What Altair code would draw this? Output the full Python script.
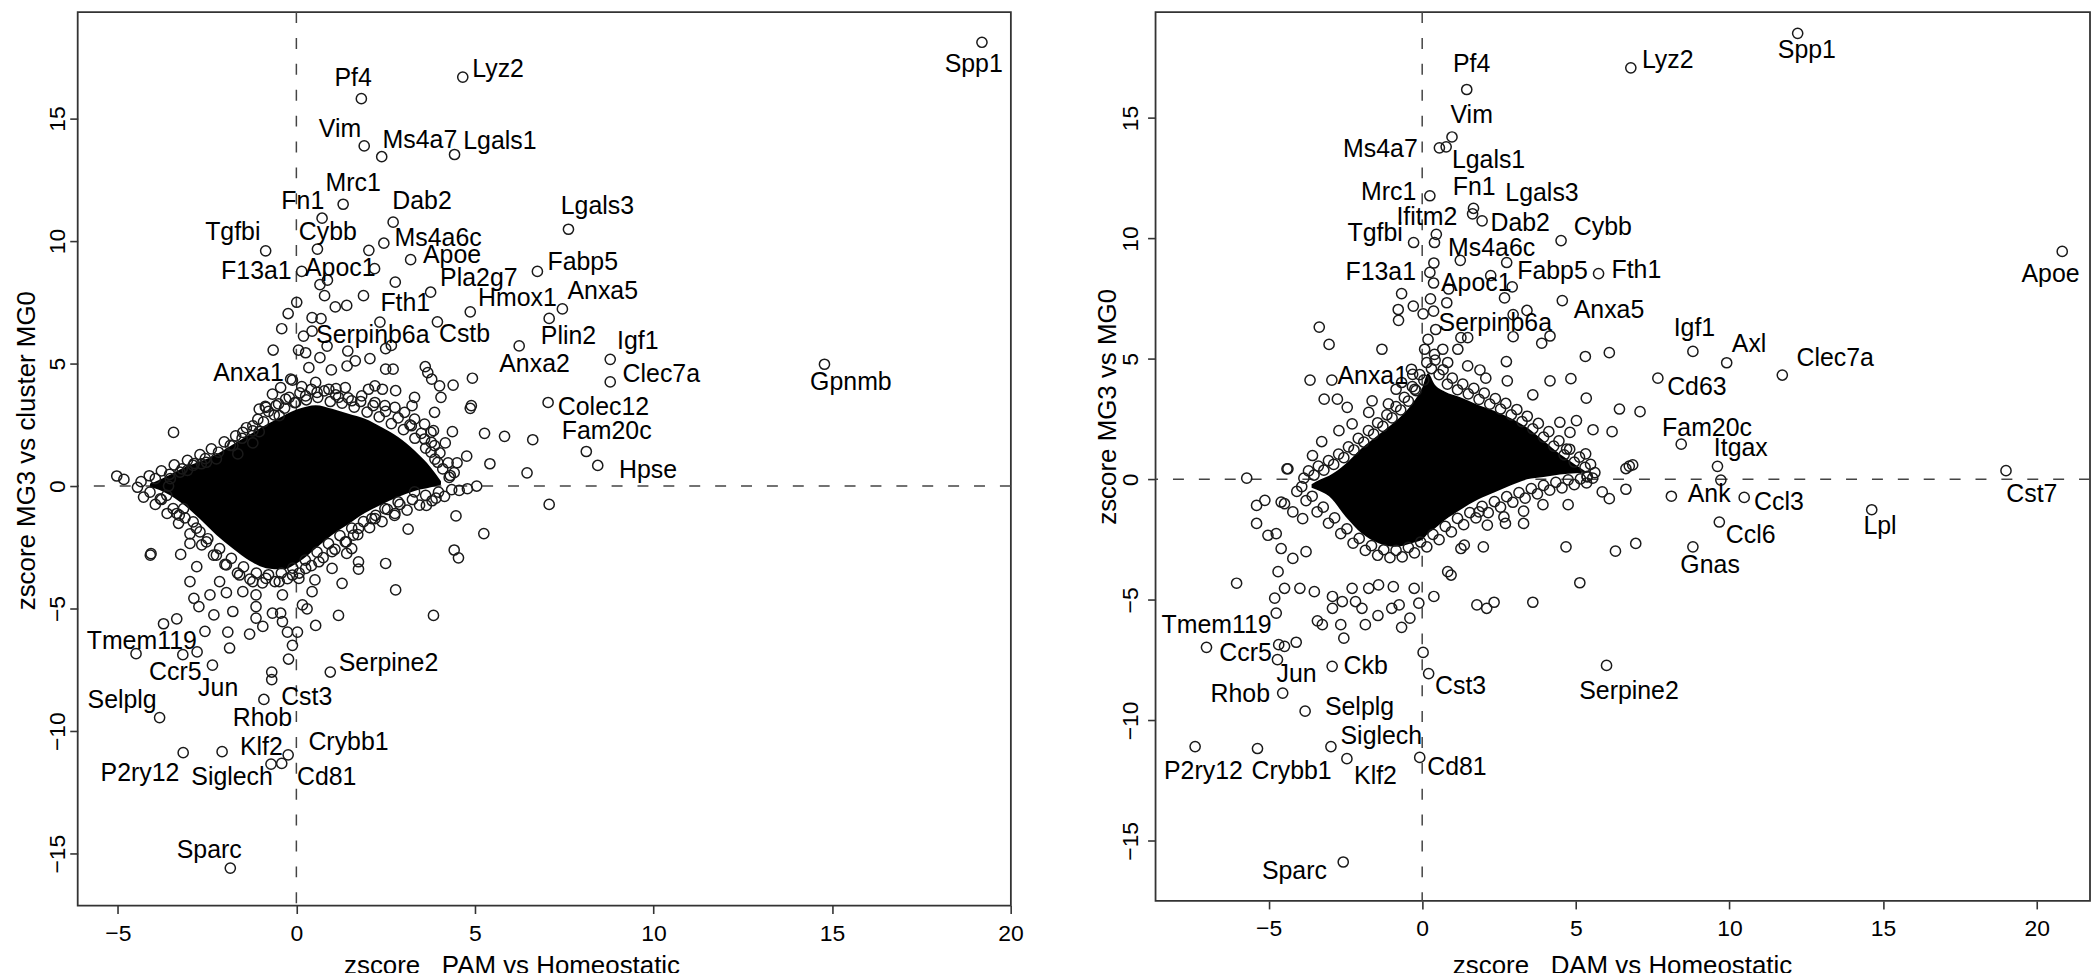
import altair as alt
import pandas as pd

FONT = "Liberation Sans"

# ======================= LEFT PANEL (PAM vs Homeostatic) =======================
L_genes = ["Pf4", "Lyz2", "Vim", "Ms4a7", "Lgals1", "Mrc1", "Fn1", "Dab2", "Lgals3", "Tgfbi",
           "Cybb", "Ms4a6c", "Apoe", "F13a1", "Apoc1", "Pla2g7", "Fabp5", "Fth1", "Hmox1", "Anxa5",
           "Cstb", "Serpinb6a", "Plin2", "Anxa2", "Igf1", "Clec7a", "Anxa1", "Colec12", "Fam20c", "Hpse",
           "Spp1", "Gpnmb", "Tmem119", "Ccr5", "Jun", "Selplg", "Rhob", "Cst3", "Serpine2", "Klf2",
           "Crybb1", "P2ry12", "Siglech", "Cd81", "Sparc"]
L_gx = [1.82, 4.66, 1.90, 2.39, 4.43, 1.31, 0.72, 2.71, 7.62, -0.86,
        0.59, 2.45, 3.20, 0.15, 2.19, 3.76, 6.75, 2.34, 4.87, 7.45,
        3.95, 0.20, 7.08, 6.24, 8.79, 8.79, -0.11, 7.05, 8.12, 8.44,
        19.20, 14.79, -4.49, -3.18, -2.35, -3.83, -0.91, -0.69, 0.95, -2.08,
        -0.23, -3.17, -0.71, -0.41, -1.85]
L_gy = [15.81, 16.69, 13.88, 13.44, 13.53, 11.50, 10.93, 10.77, 10.48, 9.60,
        9.67, 9.91, 9.24, 8.76, 8.87, 7.91, 8.76, 6.69, 7.11, 7.23,
        6.70, 6.12, 6.84, 5.72, 5.17, 4.25, 4.32, 3.41, 1.41, 0.84,
        18.11, 4.97, -6.84, -6.88, -7.31, -9.45, -8.71, -7.90, -7.59, -10.84,
        -10.97, -10.88, -11.35, -11.32, -15.59]
L_lx = [1.59, 5.65, 1.22, 3.46, 5.70, 1.59, 0.18, 3.52, 8.43, -1.78,
        0.88, 3.97, 4.36, -1.12, 1.23, 5.11, 8.02, 3.05, 6.19, 8.58,
        4.71, 2.14, 7.62, 6.67, 9.56, 10.22, -1.34, 8.60, 8.69, 9.85,
        18.97, 15.53, -4.33, -3.39, -2.19, -4.88, -0.95, 0.29, 2.58, -0.98,
        1.46, -4.38, -1.80, 0.85, -2.44]
L_ly = [16.66, 17.03, 14.55, 14.11, 14.06, 12.38, 11.65, 11.65, 11.41, 10.35,
        10.35, 10.12, 9.41, 8.76, 8.90, 8.49, 9.13, 7.48, 7.68, 7.95,
        6.22, 6.16, 6.12, 4.97, 5.92, 4.56, 4.63, 3.21, 2.26, 0.64,
        17.23, 4.23, -6.34, -7.59, -8.24, -8.74, -9.45, -8.61, -7.22, -10.65,
        -10.43, -11.72, -11.87, -11.89, -14.87]

# unlabeled genes visible outside the saturated core
L_other = [(2.03, 9.62), (0.66, 8.22), (0.87, 8.40), (2.77, 8.32), (0.79, 7.77), (1.88, 7.77),
           (1.09, 7.31), (1.41, 7.37), (0.01, 7.50), (-0.23, 7.04), (0.44, 6.87), (0.69, 6.83),
           (-0.41, 6.42), (0.44, 6.32), (0.86, 5.71), (-0.65, 5.55), (0.06, 5.55), (0.26, 5.44),
           (1.44, 5.51), (2.50, 5.61), (2.66, 5.74), (2.06, 5.20), (1.65, 5.11), (0.66, 5.24),
           (0.35, 4.83), (1.42, 4.90), (0.98, 4.74), (2.50, 4.77), (2.71, 4.77), (3.61, 4.87),
           (3.68, 4.63), (3.79, 4.36), (4.01, 4.09), (4.39, 4.12), (4.93, 4.40), (6.46, 0.54),
           (6.62, 1.89), (5.83, 2.03), (5.27, 2.15), (4.37, 2.22), (4.17, 1.76), (4.77, 1.22),
           (4.50, 0.95), (5.42, 0.91), (4.31, 0.43), (5.05, 0.00), (4.79, -0.11), (4.56, -0.18),
           (4.87, 3.17), (4.90, 3.28), (4.05, 3.62), (3.87, 3.01), (3.84, 2.26), (3.31, 3.62),
           (3.24, 3.28), (2.78, 3.89), (2.41, 3.95), (2.20, 4.09), (2.02, 3.95), (1.37, 4.02),
           (1.11, 3.98), (0.54, 4.23), (0.15, 4.06), (-0.16, 4.36), (-0.44, 4.02), (-0.67, 3.75),
           (-0.87, 3.25), (-1.04, 3.14), (-0.48, 2.87), (-1.04, 2.22), (-3.44, 2.19), (-1.22, 1.76),
           (-1.64, 1.31), (-2.66, 0.91), (-3.05, 0.64), (-5.03, 0.41), (-4.83, 0.27), (-3.58, 0.00),
           (3.22, 2.46), (3.59, 1.92), (3.77, 1.38), (3.96, 0.97),
           (-3.81, -0.52), (-3.35, -1.12), (-3.28, -1.19), (-2.98, -2.34), (-4.09, -2.82), (-4.07, -2.76),
           (-3.24, -2.79), (-2.79, -3.29), (-2.98, -3.90), (-2.87, -4.58), (-2.73, -4.92), (-3.72, -5.62),
           (-3.35, -5.42), (-2.56, -5.93), (-2.78, -6.77), (-1.92, -5.96), (-1.87, -6.61), (-1.31, -6.04),
           (-2.31, -5.26), (-2.42, -4.44), (-1.96, -4.35), (-1.78, -5.12), (-1.13, -5.39), (-0.94, -5.73),
           (-1.13, -4.92), (-0.67, -5.19), (-0.44, -5.19), (-0.39, -5.53), (-0.25, -5.96), (0.03, -5.96),
           (-0.11, -6.50), (-0.22, -7.06), (-0.69, -7.59), (0.54, -5.69), (1.18, -5.28), (0.17, -4.85),
           (0.30, -5.01), (0.07, -3.77), (0.52, -3.83), (1.28, -3.97), (1.74, -3.09), (1.74, -3.39),
           (2.50, -3.16), (2.78, -4.24), (3.84, -5.28), (4.42, -2.61), (4.54, -2.93), (5.25, -1.94),
           (4.47, -1.22), (7.08, -0.75), (3.13, -1.76), (2.76, -1.12), (3.64, -0.79), (3.91, -0.49),
           (1.60, -2.00), (1.41, -2.75), (2.20, -1.33),
           (-0.85, 3.21), (-0.57, 3.28), (-0.30, 3.55), (-0.02, 3.41), (0.26, 3.68), (0.58, 3.82),
           (0.91, 3.95), (1.18, 3.62), (1.55, 3.48), (1.83, 3.68), (2.20, 3.41), (2.48, 3.28),
           (2.76, 3.21), (3.03, 3.01), (3.31, 2.73), (3.59, 2.53), (3.77, 2.19), (3.87, 1.65),
           (-1.78, 1.65), (-1.50, 2.19), (-1.22, 2.46), (-2.24, 1.11), (-2.52, 0.97), (-2.89, 0.84),
           (-3.26, 0.57), (-3.53, 0.30),
           (-3.63, -0.38), (-3.16, -0.92), (-2.89, -1.46), (-2.70, -1.87), (-2.52, -2.28), (-2.24, -2.82),
           (-1.96, -3.22), (-1.59, -3.63), (-1.22, -3.90), (-0.85, -3.77), (-0.48, -3.90), (-0.11, -3.63),
           (0.26, -3.36), (0.63, -3.09), (1.00, -2.68), (1.37, -2.28), (1.74, -1.73), (2.11, -1.33),
           (2.48, -0.92), (2.85, -0.65), (3.31, -0.24), (-1.50, -4.31), (-2.15, -3.90), (-1.13, -4.44),
           (-0.39, -4.44), (0.44, -4.31), (1.00, -3.36), (1.55, -2.55)]

# genes crowding the ragged rim of the saturated core
L_edge = [(-4.35, 0.18), (-4.12, 0.42), (-3.95, 0.30), (-3.78, 0.62), (-3.55, 0.48), (-3.42, 0.86),
          (-3.20, 0.70), (-3.05, 1.05), (-2.86, 0.92), (-2.70, 1.28), (-2.55, 1.12), (-2.38, 1.52),
          (-2.18, 1.38), (-2.02, 1.80), (-1.85, 1.66), (-1.70, 2.05), (-1.52, 1.95), (-1.40, 2.38),
          (-1.22, 2.25), (-1.08, 2.72), (-0.92, 2.62), (-0.78, 3.05), (-0.62, 2.90), (-0.50, 3.35),
          (-0.33, 3.18), (-0.20, 3.62), (-0.05, 3.40), (0.10, 3.80), (0.28, 3.52), (0.42, 3.95),
          (0.60, 3.62), (0.78, 3.88), (0.95, 3.45), (1.10, 3.72), (1.28, 3.38), (1.45, 3.60),
          (1.62, 3.22), (1.80, 3.45), (1.98, 3.02), (2.15, 3.28), (2.32, 2.82), (2.50, 3.05),
          (2.66, 2.55), (2.85, 2.78), (3.00, 2.30), (3.18, 2.50), (3.32, 1.95), (3.50, 2.15),
          (3.62, 1.55), (3.78, 1.78), (3.88, 1.10), (4.02, 1.35), (4.10, 0.70), (4.25, 0.95),
          (4.28, 0.35), (4.42, 0.55),
          (4.35, -0.15), (4.15, -0.42), (3.98, -0.25), (3.80, -0.60), (3.62, -0.38), (3.45, -0.78),
          (3.25, -0.55), (3.10, -0.98), (2.90, -0.75), (2.75, -1.20), (2.55, -0.95), (2.40, -1.45),
          (2.22, -1.20), (2.05, -1.70), (1.88, -1.45), (1.72, -1.98), (1.55, -1.72), (1.40, -2.28),
          (1.22, -2.02), (1.08, -2.58), (0.90, -2.35), (0.75, -2.92), (0.58, -2.70), (0.42, -3.25),
          (0.25, -3.02), (0.08, -3.55), (-0.10, -3.35), (-0.25, -3.78), (-0.42, -3.55), (-0.60, -3.90),
          (-0.78, -3.62), (-0.95, -3.95), (-1.12, -3.55), (-1.30, -3.80), (-1.48, -3.30), (-1.65, -3.55),
          (-1.82, -2.95), (-2.00, -3.20), (-2.15, -2.55), (-2.32, -2.82), (-2.48, -2.15), (-2.65, -2.40),
          (-2.80, -1.72), (-2.98, -1.95), (-3.12, -1.30), (-3.30, -1.52), (-3.45, -0.92), (-3.62, -1.12),
          (-3.78, -0.55), (-3.95, -0.75), (-4.10, -0.25), (-4.28, -0.45), (-4.45, -0.05)]

# saturated (fully overplotted) core: upper and lower edge along x
L_core_x = [-4.10, -3.85, -3.63, -3.16, -2.70, -2.24, -1.78, -1.31, -0.85, -0.39,
            0.07, 0.54, 1.00, 1.46, 1.92, 2.39, 2.85, 3.31, 3.77, 4.05]
L_core_hi = [0.10, 0.25, 0.40, 0.75, 1.00, 1.30, 1.70, 2.10, 2.50, 2.85,
             3.15, 3.30, 3.15, 2.95, 2.75, 2.40, 2.00, 1.45, 0.75, 0.20]
L_core_lo = [-0.05, -0.15, -0.30, -0.75, -1.35, -2.00, -2.55, -3.05, -3.35, -3.40,
             -3.10, -2.55, -2.00, -1.55, -1.10, -0.75, -0.45, -0.20, -0.05, 0.05]

# ======================= RIGHT PANEL (DAM vs Homeostatic) =======================
R_genes = ["Pf4", "Lyz2", "Vim", "Ms4a7", "Lgals1", "Mrc1", "Fn1", "Lgals3", "Dab2", "Ifitm2",
           "Tgfbi", "Ms4a6c", "Cybb", "F13a1", "Apoc1", "Fabp5", "Fth1", "Anxa5", "Serpinb6a", "Anxa1",
           "Spp1", "Apoe", "Igf1", "Axl", "Clec7a", "Cd63", "Fam20c", "Itgax", "Ank", "Ccl3",
           "Ccl6", "Gnas", "Lpl", "Cst7", "Serpine2", "Tmem119", "Ccr5", "Jun", "Ckb", "Cst3",
           "Rhob", "Selplg", "Siglech", "Klf2", "Cd81", "P2ry12", "Crybb1", "Sparc"]
R_gx = [1.45, 6.79, 0.97, 0.56, 0.78, 0.25, 1.67, 1.64, 1.95, 0.46,
        -0.28, 0.40, 4.52, 0.25, 0.37, 2.75, 5.74, 4.56, 0.44, -0.31,
        12.22, 20.83, 8.81, 9.91, 11.72, 7.67, 8.43, 9.61, 9.72, 10.48,
        9.67, 8.81, 14.63, 19.00, 6.00, -7.02, -4.67, -4.71, -2.93, 0.21,
        -4.54, -3.81, -2.97, -2.45, -0.08, -7.39, -5.36, -2.57]
R_gy = [16.18, 17.08, 14.21, 13.76, 13.80, 11.77, 11.25, 11.02, 10.73, 10.17,
        9.83, 9.83, 9.91, 8.59, 8.15, 9.00, 8.54, 7.42, 6.22, 4.36,
        18.51, 9.46, 5.31, 4.84, 4.33, 4.20, 1.46, 0.54, -0.03, -0.75,
        -1.77, -2.80, -1.26, 0.36, -7.72, -6.97, -6.86, -7.48, -7.76, -8.06,
        -8.87, -9.62, -11.09, -11.59, -11.54, -11.09, -11.17, -15.88]
R_lx = [1.61, 7.99, 1.61, -1.36, 2.16, -1.09, 1.69, 3.90, 3.19, 0.15,
        -1.53, 2.26, 5.88, -1.35, 1.76, 4.24, 6.97, 6.08, 2.38, -1.61,
        12.52, 20.45, 8.86, 10.64, 13.44, 8.94, 9.27, 10.37, 9.34, 11.61,
        10.69, 9.37, 14.90, 19.84, 6.73, -6.69, -5.75, -4.09, -1.84, 1.25,
        -5.92, -2.04, -1.33, -1.52, 1.13, -7.12, -4.25, -4.16]
R_ly = [17.24, 17.41, 15.11, 13.73, 13.27, 11.94, 12.12, 11.87, 10.63, 10.90,
        10.24, 9.60, 10.46, 8.59, 8.15, 8.63, 8.70, 7.02, 6.50, 4.29,
        17.80, 8.51, 6.26, 5.61, 5.05, 3.82, 2.15, 1.31, -0.62, -0.95,
        -2.29, -3.54, -1.95, -0.59, -8.79, -6.06, -7.21, -8.07, -7.76, -8.58,
        -8.90, -9.44, -10.65, -12.33, -11.93, -12.12, -12.10, -16.26]

R_other = [(1.24, 9.09), (0.38, 8.98), (2.23, 8.46), (0.86, 7.90), (2.93, 7.99), (2.68, 7.53),
           (-0.67, 7.71), (0.27, 7.49), (0.80, 7.33), (-0.78, 7.05), (-0.29, 7.19), (0.03, 6.87),
           (0.37, 6.98), (-0.77, 6.60), (-3.35, 6.32), (-3.03, 5.60), (-1.31, 5.40), (2.96, 6.84),
           (3.41, 7.01), (2.96, 5.92), (3.89, 5.65), (4.16, 5.95), (1.26, 5.88), (1.48, 5.88),
           (5.31, 5.10), (6.09, 5.26), (2.74, 4.89), (1.88, 4.54), (2.07, 4.20), (2.77, 4.09),
           (4.16, 4.09), (4.84, 4.18), (3.60, 3.51), (5.34, 3.37), (6.42, 2.92), (7.09, 2.81),
           (-3.65, 4.12), (-2.94, 4.12), (-0.85, 3.74), (-3.19, 3.33), (-2.76, 3.33), (-2.44, 2.99),
           (-1.63, 3.26), (-1.10, 3.13), (-1.74, 2.78), (-2.28, 2.30), (-2.71, 2.02), (-3.27, 1.57),
           (-3.57, 0.99), (-4.37, 0.44), (-5.71, 0.05), (5.56, 2.06), (6.18, 1.98), (5.02, 2.44),
           (5.32, 1.06), (6.74, 0.55), (6.85, 0.60), (6.63, 0.45), (4.81, 1.95), (4.70, 1.26),
           (5.37, 0.13), (4.48, 2.37),
           (0.19, 5.81), (0.08, 5.40), (0.40, 5.19), (0.67, 5.40), (0.83, 4.85), (1.16, 5.40),
           (1.48, 4.71), (-0.35, 4.57), (-0.67, 4.02), (-0.24, 3.74),
           (-4.40, 0.44), (-5.39, -1.08), (-5.12, -0.87), (-4.59, -0.94), (-4.48, -1.01), (-5.39, -1.83),
           (-5.02, -2.32), (-4.75, -2.25), (-4.21, -1.35), (-3.89, -1.63), (-4.59, -2.87), (-4.21, -3.28),
           (-3.78, -3.00), (-4.69, -3.83), (-4.48, -4.52), (-4.80, -4.93), (-4.75, -5.55), (-6.04, -4.31),
           (-3.98, -4.52), (-3.51, -4.66), (-2.92, -4.86), (-2.60, -5.07), (-2.92, -5.35), (-3.41, -5.87),
           (-3.25, -6.03), (-2.65, -6.03), (-2.55, -6.59), (-1.85, -6.03), (-1.44, -5.65), (-2.17, -5.07),
           (-1.96, -5.35), (-2.28, -4.52), (-1.74, -4.52), (-1.42, -4.38), (-0.94, -4.45), (-0.99, -5.35),
           (-0.75, -5.21), (-0.40, -5.76), (-0.67, -6.14), (-0.26, -4.52), (-0.11, -5.14), (0.38, -4.86),
           (0.03, -7.18), (0.83, -3.83), (0.94, -3.97), (1.26, -2.87), (1.99, -2.80), (1.78, -5.21),
           (2.10, -5.35), (2.34, -5.10), (3.60, -5.10), (5.13, -4.29), (4.68, -2.80), (6.29, -2.98),
           (6.95, -2.66), (5.86, -0.52), (6.09, -0.80), (6.63, -0.41), (8.11, -0.70), (5.37, 0.10),
           (4.75, -1.05), (3.93, -1.05), (3.30, -1.32), (3.30, -1.83), (2.71, -1.83), (2.66, -1.56),
           (2.12, -1.90), (1.85, -1.35), (1.37, -2.73), (-4.48, -6.93), (-4.10, -6.76)]

R_edge = [(-3.85, 0.05), (-3.70, 0.35), (-3.52, 0.18), (-3.38, 0.55), (-3.20, 0.38), (-3.05, 0.78),
          (-2.88, 0.62), (-2.72, 1.05), (-2.55, 0.90), (-2.40, 1.35), (-2.22, 1.22), (-2.08, 1.70),
          (-1.90, 1.55), (-1.75, 2.02), (-1.58, 1.88), (-1.45, 2.35), (-1.28, 2.20), (-1.15, 2.68),
          (-0.98, 2.55), (-0.85, 3.02), (-0.70, 2.88), (-0.58, 3.40), (-0.45, 3.25), (-0.32, 3.85),
          (-0.20, 3.68), (-0.08, 4.35), (0.05, 4.12), (0.15, 4.85), (0.30, 4.60), (0.42, 4.95),
          (0.55, 4.35), (0.68, 4.55), (0.82, 3.95), (0.98, 4.20), (1.15, 3.72), (1.32, 3.95),
          (1.50, 3.55), (1.68, 3.78), (1.85, 3.32), (2.02, 3.58), (2.20, 3.12), (2.38, 3.35),
          (2.55, 2.92), (2.72, 3.15), (2.90, 2.68), (3.08, 2.90), (3.25, 2.40), (3.42, 2.62),
          (3.60, 2.10), (3.78, 2.32), (3.95, 1.75), (4.12, 1.98), (4.28, 1.38), (4.45, 1.60),
          (4.62, 1.02), (4.80, 1.25), (4.95, 0.72), (5.12, 0.92), (5.30, 0.50), (5.48, 0.62),
          (5.62, 0.28),
          (5.55, 0.05), (5.35, -0.15), (5.15, 0.02), (4.95, -0.22), (4.75, -0.02), (4.55, -0.35),
          (4.35, -0.12), (4.15, -0.45), (3.95, -0.25), (3.75, -0.60), (3.55, -0.38), (3.35, -0.78),
          (3.15, -0.55), (2.95, -0.95), (2.75, -0.72), (2.55, -1.15), (2.35, -0.92), (2.15, -1.38),
          (1.95, -1.12), (1.75, -1.60), (1.55, -1.38), (1.35, -1.88), (1.15, -1.62), (0.95, -2.18),
          (0.75, -1.95), (0.55, -2.50), (0.35, -2.28), (0.15, -2.80), (-0.05, -2.60), (-0.25, -3.05),
          (-0.45, -2.82), (-0.65, -3.22), (-0.85, -2.95), (-1.05, -3.25), (-1.25, -2.92), (-1.45, -3.15),
          (-1.65, -2.75), (-1.85, -2.95), (-2.05, -2.45), (-2.25, -2.65), (-2.45, -2.05), (-2.65, -2.25),
          (-2.85, -1.60), (-3.05, -1.82), (-3.22, -1.15), (-3.42, -1.35), (-3.58, -0.70), (-3.78, -0.88),
          (-3.92, -0.30), (-4.08, -0.50)]

R_core_x = [-3.60, -3.30, -3.03, -2.49, -1.96, -1.42, -0.88, -0.35, 0.00, 0.19,
            0.40, 0.73, 1.26, 1.80, 2.34, 2.87, 3.41, 3.95, 4.48, 5.00, 5.30]
R_core_hi = [-0.20, 0.00, 0.15, 0.65, 1.30, 1.85, 2.40, 3.10, 3.80, 4.40,
             3.95, 3.65, 3.40, 3.10, 2.85, 2.55, 2.15, 1.60, 1.05, 0.60, 0.35]
R_core_lo = [-0.35, -0.50, -0.70, -1.55, -2.25, -2.65, -2.80, -2.65, -2.50, -2.25,
             -2.05, -1.70, -1.25, -0.85, -0.55, -0.25, 0.00, 0.10, 0.20, 0.25, 0.30]

X_TICKS = [-5, 0, 5, 10, 15, 20]
Y_TICKS = [-15, -10, -5, 0, 5, 10, 15]


def panel(genes, gx, gy, lx, ly, other, edge, cx, clo, chi,
          xdom, ydom, w, h, xtitle, ytitle, ylab_pad, ytitle_x, ytitle_y,
          xlab_pad, xtitle_x, xtitle_y):
    pts = pd.DataFrame({
        "x": list(gx) + [p[0] for p in other] + [p[0] for p in edge],
        "y": list(gy) + [p[1] for p in other] + [p[1] for p in edge],
    })
    labs = pd.DataFrame({"g": genes, "x": lx, "y": ly})
    core = pd.DataFrame({"x": cx, "lo": clo, "hi": chi})
    zero = pd.DataFrame({"z": [0]})

    xs = alt.Scale(domain=xdom, nice=False, zero=False)
    ys = alt.Scale(domain=ydom, nice=False, zero=False)
    xaxis = alt.Axis(values=X_TICKS, title=xtitle, grid=False, domain=False,
                     tickSize=8, tickColor="#333333", tickWidth=1.6,
                     labelFont=FONT, labelFontSize=23, labelColor="black",
                     labelPadding=xlab_pad, labelBaseline="alphabetic",
                     labelFlush=False, labelOverlap=False,
                     titleFont=FONT, titleFontSize=26, titleFontWeight="normal",
                     titleColor="black", titleBaseline="alphabetic", titleAlign="center",
                     titleX=xtitle_x, titleY=xtitle_y)
    yaxis = alt.Axis(values=Y_TICKS, title=ytitle, grid=False, domain=False,
                     tickSize=8, tickColor="#333333", tickWidth=1.6,
                     labelFont=FONT, labelFontSize=23, labelColor="black",
                     labelAngle=270, labelAlign="center", labelBaseline="alphabetic",
                     labelPadding=ylab_pad, labelFlush=False, labelOverlap=False,
                     titleFont=FONT, titleFontSize=26, titleFontWeight="normal",
                     titleColor="black", titleAngle=270, titleBaseline="alphabetic",
                     titleAlign="center", titleX=ytitle_x, titleY=ytitle_y)

    def X(f):
        return alt.X(f, type="quantitative", scale=xs, axis=xaxis)

    def Y(f):
        return alt.Y(f, type="quantitative", scale=ys, axis=yaxis)

    core_l = alt.Chart(core).mark_area(color="black", opacity=1, interpolate="monotone").encode(
        x=X("x"), y=Y("lo"), y2="hi")
    vline = alt.Chart(zero).mark_rule(color="#444444", strokeWidth=1.5, strokeDash=[11, 15]).encode(x=X("z"))
    hline = alt.Chart(zero).mark_rule(color="#444444", strokeWidth=1.5, strokeDash=[11, 15]).encode(y=Y("z"))
    pts_l = alt.Chart(pts).mark_point(shape="circle", filled=False, size=105, strokeWidth=1.5,
                                      color="#1a1a1a", opacity=1).encode(x=X("x"), y=Y("y"))
    txt_l = alt.Chart(labs).mark_text(font=FONT, fontSize=25, color="black",
                                      align="center", baseline="middle").encode(
        x=X("x"), y=Y("y"), text="g:N")
    return alt.layer(vline, hline, core_l, pts_l, txt_l).properties(width=w, height=h)


left = panel(L_genes, L_gx, L_gy, L_lx, L_ly, L_other, L_edge, L_core_x, L_core_lo, L_core_hi,
             [-6.124, 20.01], [-17.119, 19.342], 937.2, 897.3,
             "zscore\u00a0\u00a0\u00a0PAM vs Homeostatic", "zscore MG3 vs cluster MG0",
             5.5, -43.8, 440, 26.7, 435.7, 68.7)
right = panel(R_genes, R_gx, R_gy, R_lx, R_ly, R_other, R_edge, R_core_x, R_core_lo, R_core_hi,
              [-8.678, 21.734], [-17.496, 19.393], 938.5, 892.7,
              "zscore\u00a0\u00a0\u00a0DAM vs Homeostatic", "zscore MG3 vs MG0",
              10, -40.5, 396, 26.3, 468.5, 73.3)

chart = alt.hconcat(left, right, spacing=144.5, bounds="flush").properties(
    padding={"left": 4, "top": 0, "right": 0, "bottom": 0},
    background="white",
).configure_view(stroke="#333333", strokeWidth=1.8)

chart.save("out.html", embed_options={"renderer": "svg", "actions": False})
